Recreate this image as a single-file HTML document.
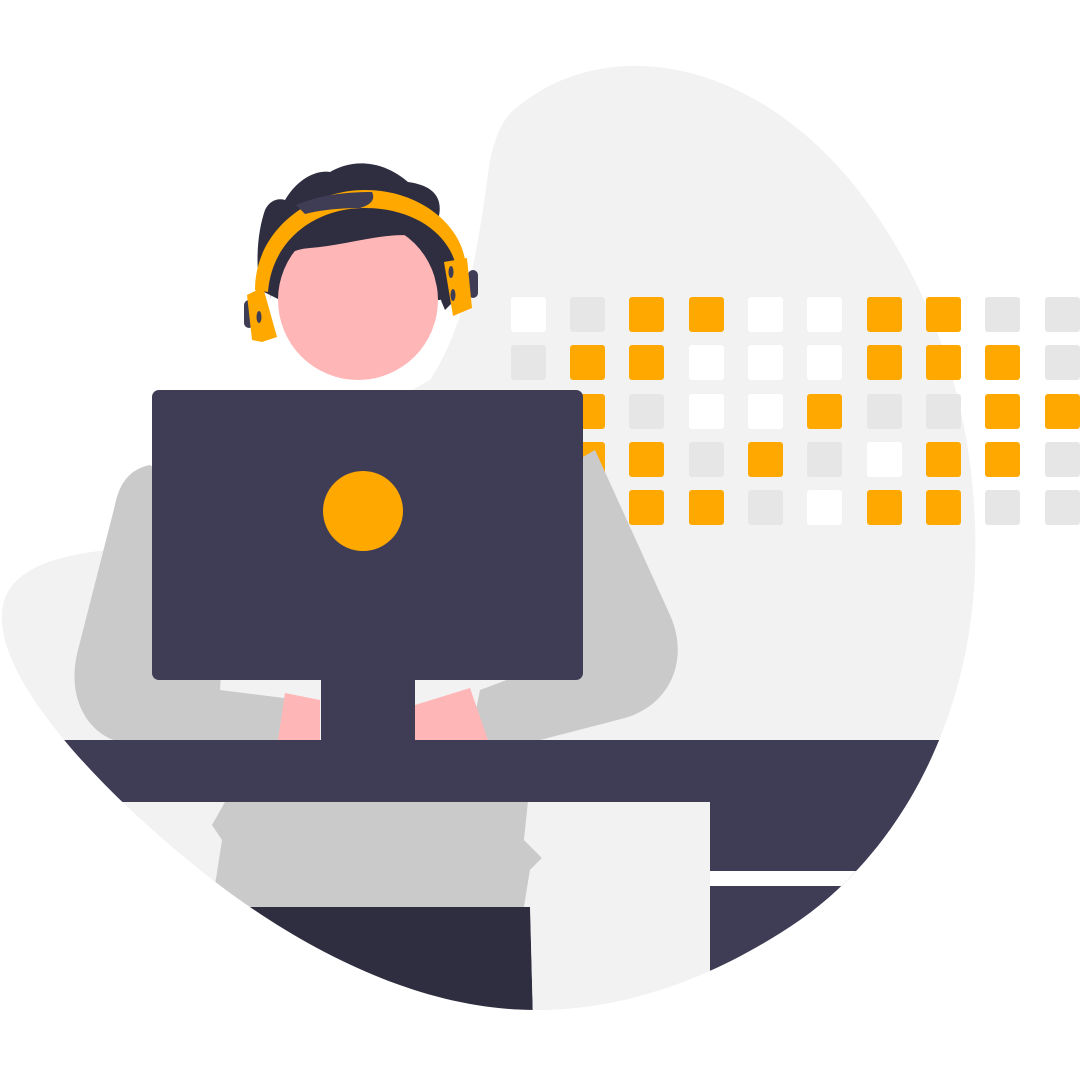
<!DOCTYPE html>
<html><head><style>html,body{margin:0;padding:0;background:#fff}svg{display:block}</style></head>
<body>
<svg width="1080" height="1080" viewBox="0 0 1080 1080" xmlns="http://www.w3.org/2000/svg">
<defs>
<clipPath id="b"><path id="bp" d="M520,105 C600,40 740,50 850,180 C940,290 980,430 975,570 C970,720 900,850 800,920 C720,975 630,1010 535,1010 C420,1010 300,950 200,870 C100,790 20,700 5,640 C-10,580 30,555 130,548 L430,380 C470,320 480,230 490,160 C497,130 505,115 520,105 Z"/></clipPath>
</defs>
<use href="#bp" fill="#f2f2f2"/>
<!-- grid -->
<g>
<rect x="511" y="297" width="35" height="35" rx="3" fill="#fff"/><rect x="570" y="297" width="35" height="35" rx="3" fill="#e6e6e6"/><rect x="629" y="297" width="35" height="35" rx="3" fill="#ffa800"/><rect x="689" y="297" width="35" height="35" rx="3" fill="#ffa800"/><rect x="748" y="297" width="35" height="35" rx="3" fill="#fff"/><rect x="807" y="297" width="35" height="35" rx="3" fill="#fff"/><rect x="867" y="297" width="35" height="35" rx="3" fill="#ffa800"/><rect x="926" y="297" width="35" height="35" rx="3" fill="#ffa800"/><rect x="985" y="297" width="35" height="35" rx="3" fill="#e6e6e6"/><rect x="1045" y="297" width="35" height="35" rx="3" fill="#e6e6e6"/>
<rect x="511" y="345" width="35" height="35" rx="3" fill="#e6e6e6"/><rect x="570" y="345" width="35" height="35" rx="3" fill="#ffa800"/><rect x="629" y="345" width="35" height="35" rx="3" fill="#ffa800"/><rect x="689" y="345" width="35" height="35" rx="3" fill="#fff"/><rect x="748" y="345" width="35" height="35" rx="3" fill="#fff"/><rect x="807" y="345" width="35" height="35" rx="3" fill="#fff"/><rect x="867" y="345" width="35" height="35" rx="3" fill="#ffa800"/><rect x="926" y="345" width="35" height="35" rx="3" fill="#ffa800"/><rect x="985" y="345" width="35" height="35" rx="3" fill="#ffa800"/><rect x="1045" y="345" width="35" height="35" rx="3" fill="#e6e6e6"/>
<rect x="570" y="394" width="35" height="35" rx="3" fill="#ffa800"/><rect x="629" y="394" width="35" height="35" rx="3" fill="#e6e6e6"/><rect x="689" y="394" width="35" height="35" rx="3" fill="#fff"/><rect x="748" y="394" width="35" height="35" rx="3" fill="#fff"/><rect x="807" y="394" width="35" height="35" rx="3" fill="#ffa800"/><rect x="867" y="394" width="35" height="35" rx="3" fill="#e6e6e6"/><rect x="926" y="394" width="35" height="35" rx="3" fill="#e6e6e6"/><rect x="985" y="394" width="35" height="35" rx="3" fill="#ffa800"/><rect x="1045" y="394" width="35" height="35" rx="3" fill="#ffa800"/>
<rect x="570" y="442" width="35" height="35" rx="3" fill="#ffa800"/><rect x="629" y="442" width="35" height="35" rx="3" fill="#ffa800"/><rect x="689" y="442" width="35" height="35" rx="3" fill="#e6e6e6"/><rect x="748" y="442" width="35" height="35" rx="3" fill="#ffa800"/><rect x="807" y="442" width="35" height="35" rx="3" fill="#e6e6e6"/><rect x="867" y="442" width="35" height="35" rx="3" fill="#fff"/><rect x="926" y="442" width="35" height="35" rx="3" fill="#ffa800"/><rect x="985" y="442" width="35" height="35" rx="3" fill="#ffa800"/><rect x="1045" y="442" width="35" height="35" rx="3" fill="#e6e6e6"/>
<rect x="629" y="490" width="35" height="35" rx="3" fill="#ffa800"/><rect x="689" y="490" width="35" height="35" rx="3" fill="#ffa800"/><rect x="748" y="490" width="35" height="35" rx="3" fill="#e6e6e6"/><rect x="807" y="490" width="35" height="35" rx="3" fill="#fff"/><rect x="867" y="490" width="35" height="35" rx="3" fill="#ffa800"/><rect x="926" y="490" width="35" height="35" rx="3" fill="#ffa800"/><rect x="985" y="490" width="35" height="35" rx="3" fill="#e6e6e6"/><rect x="1045" y="490" width="35" height="35" rx="3" fill="#e6e6e6"/>
</g>
<!-- arms -->
<path d="M150,465 C125,470 118,490 115,505 L78,650 C65,700 90,735 120,742 L300,742 L300,700 L220,690 L230,520 Z" fill="#cacaca"/>
<path d="M595,450 L670,615 C690,660 670,705 625,718 L540,740 L470,740 L480,690 L560,660 L560,470 Z" fill="#cacaca"/>
<!-- hands -->
<path d="M285,693 L320,700 L320,740 L278,740 Z" fill="#ffb6b6"/>
<path d="M415,705 L470,688 L488,740 L415,740 Z" fill="#ffb6b6"/>
<g clip-path="url(#b)">
<!-- torso lower -->
<path d="M225,802 L528,802 L524,840 L542,858 L530,870 L524,907 L250,907 L215,885 L222,840 L212,825 Z" fill="#cacaca"/>
<path d="M240,907 L530,907 L533,1020 L200,1020 Z" fill="#2f2e41"/>
<!-- chair -->
<path d="M528,802 L690,802 Q710,802 710,822 L710,1020 L533,1020 L530,900 L524,907 L530,870 L542,858 L524,840 Z" fill="#f2f2f2"/>
<!-- desk -->
<rect x="0" y="740" width="1080" height="62" fill="#3f3d56"/>
<rect x="710" y="802" width="370" height="260" fill="#3f3d56"/>
<rect x="710" y="871" width="370" height="15" fill="#fff"/>
</g>
<!-- monitor -->
<rect x="321" y="670" width="94" height="72" fill="#3f3d56"/>
<rect x="152" y="390" width="431" height="290" rx="7" fill="#3f3d56"/>
<circle cx="363" cy="511" r="40" fill="#ffa800"/>
<!-- head -->
<path d="M285,200 C300,175 320,170 330,172 C350,160 380,158 408,182 C430,185 445,195 438,220 C455,240 465,260 460,290 L440,300 L280,300 L260,290 C255,260 258,230 265,210 C270,200 278,198 285,200 Z" fill="#2f2e41"/>
<circle cx="358" cy="300" r="80" fill="#ffb6b6"/>
<path d="M270,300 C270,270 280,250 310,248 C360,244 420,220 430,250 C433,270 436,290 445,310 L455,300 C460,270 455,235 440,222 C410,205 330,205 295,225 C270,245 272,280 270,300 Z" fill="#2f2e41"/>
<path d="M255,290 C255,230 310,190 365,190 C420,190 460,225 465,260 L455,262 C445,230 410,208 365,208 C315,208 272,240 268,292 Z" fill="#ffa800"/>
<path d="M296,205 C320,195 345,192 372,192 C376,200 370,205 360,208 C340,208 320,210 305,214 Z" fill="#3f3d56"/>
<rect x="244" y="300" width="10" height="28" rx="5" fill="#3f3d56"/>
<path d="M247,295 L263,287 L277,337 L262,342 L252,340 Z" fill="#ffa800"/>
<ellipse cx="259" cy="317" rx="2.5" ry="6" fill="#3f3d56"/>
<rect x="468" y="270" width="10" height="28" rx="5" fill="#3f3d56"/>
<path d="M444,262 L467,258 L472,308 L453,316 Z" fill="#ffa800"/>
<ellipse cx="451" cy="272" rx="2.5" ry="6" fill="#3f3d56"/>
<ellipse cx="453" cy="295" rx="2.5" ry="6" fill="#3f3d56"/>
</svg>
</body></html>
